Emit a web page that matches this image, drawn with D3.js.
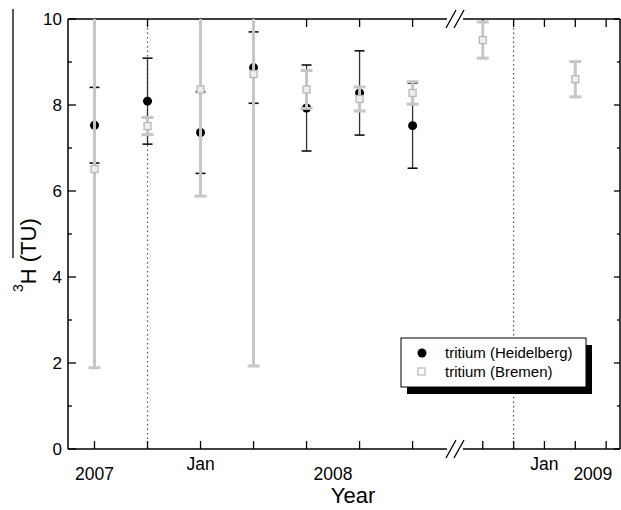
<!DOCTYPE html>
<html>
<head>
<meta charset="utf-8">
<script src="https://cdn.jsdelivr.net/npm/d3@7"></script>
<style>
  body { margin: 0; background: #fff; }
  svg { font-family: "Liberation Sans", Arial, sans-serif; }
</style>
</head>
<body>
<div id="chart"></div>
<script>
// data (time index: 0..6 before the axis break, 8..12 after it)
var heidTime  = [0, 1, 2, 3, 4, 5, 6];
var heidValue = [7.53, 8.09, 7.36, 8.87, 7.93, 8.28, 7.52];
var heidErr   = [0.88, 1.0, 0.95, 0.83, 1.0, 0.98, 0.99];

var bremTime  = [0, 1, 2, 3, 4, 5, 6, 8, 11];
var bremValue = [6.51, 7.51, 8.36, 8.72, 8.36, 8.14, 8.28, 9.51, 8.60];
var bremErr   = [4.62, 0.2, 2.48, 6.79, 0.44, 0.28, 0.26, 0.42, 0.41];

var xTicks = [0, 1, 2, 3, 4, 5, 6, 8, 9, 10, 11, 12];
var yearLabels = [{t: 0, text: "2007"}, {t: 4.5, text: "2008"}, {t: 11.57, text: "2009"}];
var monthLabels = [{t: 2, text: "Jan"}, {t: 10, text: "Jan"}];
var dottedTimes = [1, 9];
var yTicks = [0, 2, 4, 6, 8, 10];
var yMinor = [1, 3, 5, 7, 9];

var width = 621, height = 510;
var pLeft = 68, pRight = 620, pTop = 19, pBottom = 449, breakX = 455;

var x = d3.scaleLinear()
    .domain([-0.5, 6.8, 7.1, 12.45])
    .range([pLeft, breakX, breakX, pRight]);
var y = d3.scaleLinear().domain([0, 10]).range([pBottom, pTop]);

var svg = d3.select("#chart").append("svg")
    .attr("width", width)
    .attr("height", height);

svg.append("clipPath").attr("id", "plot")
  .append("rect")
    .attr("x", pLeft).attr("y", pTop)
    .attr("width", pRight - pLeft).attr("height", pBottom - pTop);

// dotted year separators
svg.selectAll(".sep").data(dottedTimes).enter().append("line")
    .attr("x1", function(d) { return x(d); })
    .attr("x2", function(d) { return x(d); })
    .attr("y1", pTop).attr("y2", pBottom)
    .attr("stroke", "#555").attr("stroke-width", 1.2)
    .attr("stroke-dasharray", "1.5,3");

// frame: left and right axes
svg.append("line").attr("x1", pLeft).attr("x2", pLeft).attr("y1", pTop).attr("y2", pBottom)
    .attr("stroke", "#000").attr("stroke-width", 1.5);
svg.append("line").attr("x1", pRight).attr("x2", pRight).attr("y1", pTop).attr("y2", pBottom)
    .attr("stroke", "#000").attr("stroke-width", 1.5);

// top and bottom axes with a gap for the break
[pTop, pBottom].forEach(function(yy) {
  svg.append("line").attr("x1", pLeft).attr("x2", breakX - 8).attr("y1", yy).attr("y2", yy)
      .attr("stroke", "#000").attr("stroke-width", 1.5);
  svg.append("line").attr("x1", breakX + 8).attr("x2", pRight).attr("y1", yy).attr("y2", yy)
      .attr("stroke", "#000").attr("stroke-width", 1.5);
  [-4, 4].forEach(function(dx) {
    svg.append("line")
        .attr("x1", breakX + dx - 5).attr("y1", yy + 9)
        .attr("x2", breakX + dx + 5).attr("y2", yy - 9)
        .attr("stroke", "#000").attr("stroke-width", 1.3);
  });
});

// x ticks, pointing inward
svg.selectAll(".xt").data(xTicks).enter().append("line")
    .attr("x1", function(d) { return x(d); }).attr("x2", function(d) { return x(d); })
    .attr("y1", pBottom).attr("y2", pBottom - 8)
    .attr("stroke", "#000").attr("stroke-width", 1.3);
svg.selectAll(".xtt").data(xTicks).enter().append("line")
    .attr("x1", function(d) { return x(d); }).attr("x2", function(d) { return x(d); })
    .attr("y1", pTop).attr("y2", pTop + 8)
    .attr("stroke", "#000").attr("stroke-width", 1.3);

// y ticks, left and right
svg.selectAll(".yt").data(yTicks).enter().append("line")
    .attr("x1", pLeft).attr("x2", pLeft + 8)
    .attr("y1", function(d) { return y(d); }).attr("y2", function(d) { return y(d); })
    .attr("stroke", "#000").attr("stroke-width", 1.3);
svg.selectAll(".ym").data(yMinor).enter().append("line")
    .attr("x1", pLeft).attr("x2", pLeft + 4)
    .attr("y1", function(d) { return y(d); }).attr("y2", function(d) { return y(d); })
    .attr("stroke", "#000").attr("stroke-width", 1.3);
svg.selectAll(".ytr").data(yTicks).enter().append("line")
    .attr("x1", pRight).attr("x2", pRight - 6)
    .attr("y1", function(d) { return y(d); }).attr("y2", function(d) { return y(d); })
    .attr("stroke", "#000").attr("stroke-width", 1.3);
svg.selectAll(".ymr").data(yMinor).enter().append("line")
    .attr("x1", pRight).attr("x2", pRight - 3)
    .attr("y1", function(d) { return y(d); }).attr("y2", function(d) { return y(d); })
    .attr("stroke", "#000").attr("stroke-width", 1.3);

svg.selectAll(".yl").data(yTicks).enter().append("text")
    .attr("x", pLeft - 6)
    .attr("y", function(d) { return y(d); })
    .attr("dy", "0.36em")
    .attr("text-anchor", "end")
    .style("font-size", "17px")
    .text(function(d) { return d; });

svg.selectAll(".yr").data(yearLabels).enter().append("text")
    .attr("x", function(d) { return x(d.t); })
    .attr("y", 480)
    .attr("text-anchor", "middle")
    .style("font-size", "17.5px")
    .text(function(d) { return d.text; });
svg.selectAll(".mo").data(monthLabels).enter().append("text")
    .attr("x", function(d) { return x(d.t); })
    .attr("y", 470)
    .attr("text-anchor", "middle")
    .style("font-size", "17.5px")
    .text(function(d) { return d.text; });

svg.append("text")
    .attr("x", 353).attr("y", 503)
    .attr("text-anchor", "middle")
    .style("font-size", "22px")
    .text("Year");

// y label
var yl = svg.append("text")
    .attr("transform", "translate(36,292) rotate(-90)")
    .style("font-size", "22px");
yl.append("tspan").attr("dy", -13).style("font-size", "14px").text("3");
yl.append("tspan").attr("dy", 13).text("H (TU)");
svg.append("line").attr("x1", 13).attr("x2", 13).attr("y1", 9).attr("y2", 258)
    .attr("stroke", "#000").attr("stroke-width", 1.3);

var plot = svg.append("g").attr("clip-path", "url(#plot)");

// Heidelberg
var heid = heidTime.map(function(t, i) { return {t: t, v: heidValue[i], e: heidErr[i]}; });
var hg = plot.selectAll(".h").data(heid).enter().append("g");
hg.append("line")
    .attr("x1", function(d) { return x(d.t); }).attr("x2", function(d) { return x(d.t); })
    .attr("y1", function(d) { return y(d.v - d.e); }).attr("y2", function(d) { return y(d.v + d.e); })
    .attr("stroke", "#333").attr("stroke-width", 1.3);
[-1, 1].forEach(function(s) {
  hg.append("line")
      .attr("x1", function(d) { return x(d.t) - 5; }).attr("x2", function(d) { return x(d.t) + 5; })
      .attr("y1", function(d) { return y(d.v + s * d.e); }).attr("y2", function(d) { return y(d.v + s * d.e); })
      .attr("stroke", "#111").attr("stroke-width", 1.6);
});
hg.append("circle")
    .attr("cx", function(d) { return x(d.t); })
    .attr("cy", function(d) { return y(d.v); })
    .attr("r", 4.5)
    .attr("fill", "#000");

// Bremen
var brem = bremTime.map(function(t, i) { return {t: t, v: bremValue[i], e: bremErr[i]}; });
var bg = plot.selectAll(".b").data(brem).enter().append("g");
bg.append("line")
    .attr("x1", function(d) { return x(d.t); }).attr("x2", function(d) { return x(d.t); })
    .attr("y1", function(d) { return y(d.v - d.e); }).attr("y2", function(d) { return y(d.v + d.e); })
    .attr("stroke", "#c6c6c6").attr("stroke-width", 3);
[-1, 1].forEach(function(s) {
  bg.append("line")
      .attr("x1", function(d) { return x(d.t) - 6; }).attr("x2", function(d) { return x(d.t) + 6; })
      .attr("y1", function(d) { return y(d.v + s * d.e); }).attr("y2", function(d) { return y(d.v + s * d.e); })
      .attr("stroke", "#c6c6c6").attr("stroke-width", 3);
});
bg.append("rect")
    .attr("x", function(d) { return x(d.t) - 3.5; })
    .attr("y", function(d) { return y(d.v) - 3.5; })
    .attr("width", 7).attr("height", 7)
    .attr("fill", "#eee")
    .attr("stroke", "#b8b8b8").attr("stroke-width", 1.3);

// legend
var lg = svg.append("g");
lg.append("rect").attr("x", 407).attr("y", 345).attr("width", 185).attr("height", 49).attr("fill", "#000");
lg.append("rect").attr("x", 401).attr("y", 338).attr("width", 185).attr("height", 49)
    .attr("fill", "#fff").attr("stroke", "#000").attr("stroke-width", 1);
lg.append("circle").attr("cx", 422).attr("cy", 353).attr("r", 4.5).attr("fill", "#000");
lg.append("rect").attr("x", 418).attr("y", 368).attr("width", 7).attr("height", 7)
    .attr("fill", "#fff").attr("stroke", "#b8b8b8").attr("stroke-width", 1.2);
lg.append("text").attr("x", 445).attr("y", 358).style("font-size", "15px").text("tritium (Heidelberg)");
lg.append("text").attr("x", 445).attr("y", 377).style("font-size", "15px").text("tritium (Bremen)");
</script>
</body>
</html>
